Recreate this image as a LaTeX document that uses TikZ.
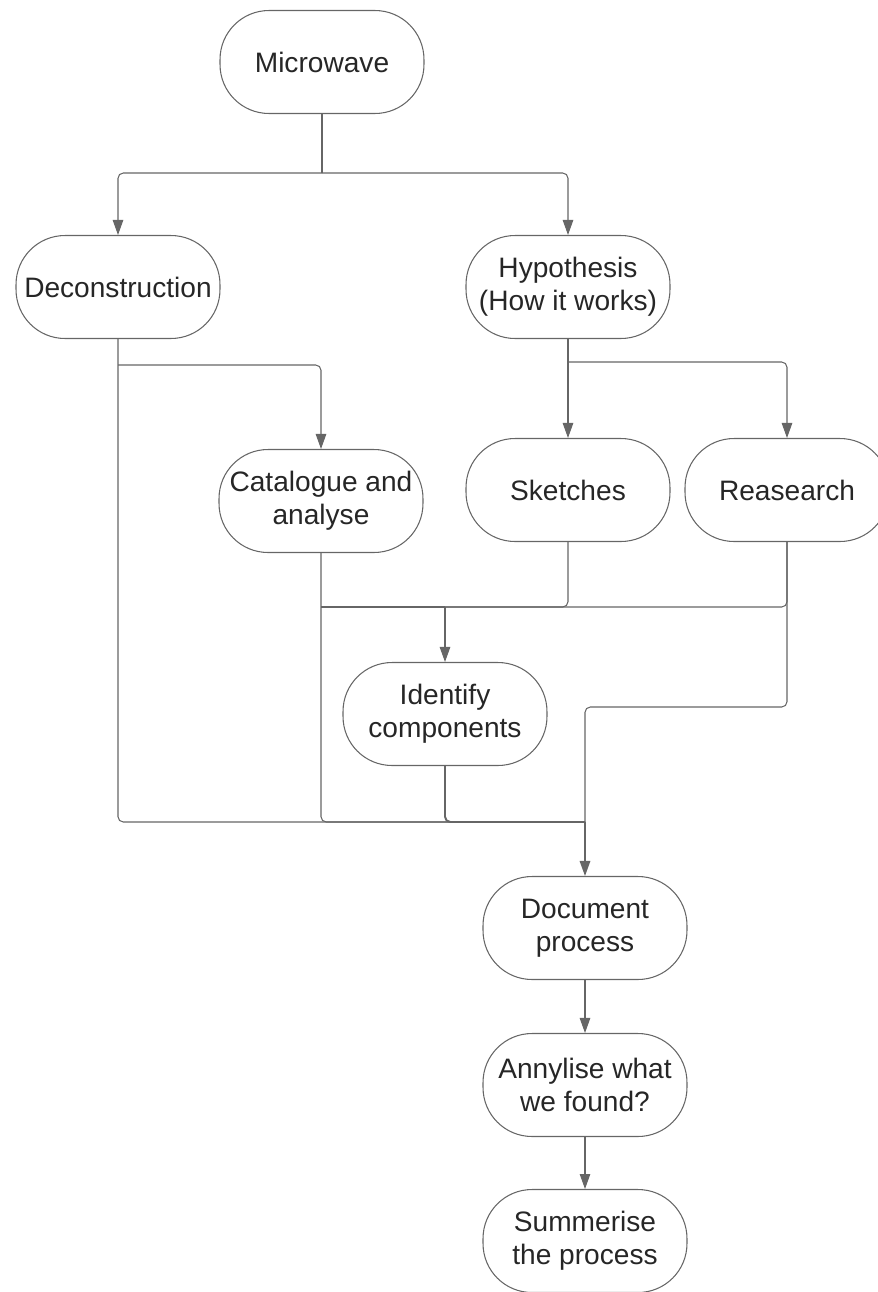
\documentclass[tikz,border=0pt]{standalone}
\usepackage{fontspec}
\setmainfont{Liberation Sans}
\usetikzlibrary{arrows.meta}

\begin{document}
\begin{tikzpicture}[x=0.02cm,y=-0.02cm,
  stage/.style={draw=black!60,line width=0.6pt,rounded corners=0.98cm,
    minimum width=4.08cm,minimum height=2.06cm,inner sep=0pt,align=center,
    text=black!85,font=\fontsize{16}{18.7}\selectfont},
  link/.style={draw=black!60,line width=0.6pt,rounded corners=3pt},
  flow/.style={link,-{Triangle[length=0.3cm,width=0.21cm]}}]

\clip (0,0) rectangle (878,1292);

\node[stage] (micro) at (322,62) {Microwave};
\node[stage] (decon) at (118,287) {Deconstruction};
\node[stage] (hypo) at (568,287) {Hypothesis\\(How it works)};
\node[stage] (cata) at (321,501) {Catalogue and\\analyse};
\node[stage] (sketch) at (568,490) {Sketches};
\node[stage] (resea) at (787,490) {Reasearch};
\node[stage] (ident) at (445,714) {Identify\\components};
\node[stage] (docu) at (585,928) {Document\\process};
\node[stage] (anny) at (585,1085) {Annylise what\\we found?};
\node[stage] (summ) at (585,1241) {Summerise\\the process};

\coordinate (split1) at (322,173);
\coordinate (split2) at (118,365);
\coordinate (split3) at (568,362);
\coordinate (gather) at (445,607);
\coordinate (bend) at (787,707);
\coordinate (join) at (585,822);

\draw[link] (micro.south) -- (split1);
\draw[flow] (split1) -| (decon.north);
\draw[flow] (split1) -| (hypo.north);

\draw[link] (decon.south) |- (join);
\draw[flow] (split2) -| (cata.north);

\draw[link] (hypo.south) -- (split3);
\draw[flow] (split3) -- (sketch.north);
\draw[flow] (split3) -| (resea.north);

\draw[link] (cata.south) |- (join);
\draw[link] (cata.south |- gather) -- (gather);
\draw[link] (sketch.south) |- (gather);
\draw[link] (resea.south) |- (gather);
\draw[flow] (gather) -- (ident.north);

\draw[link] (resea.south) -- (bend) -| (join);
\draw[link,line width=1.1pt] (ident.south) |- (join);
\draw[flow,line width=0.9pt] (join) -- (docu.north);

\draw[flow] (docu) -- (anny);
\draw[flow] (anny) -- (summ);
\end{tikzpicture}
\end{document}
